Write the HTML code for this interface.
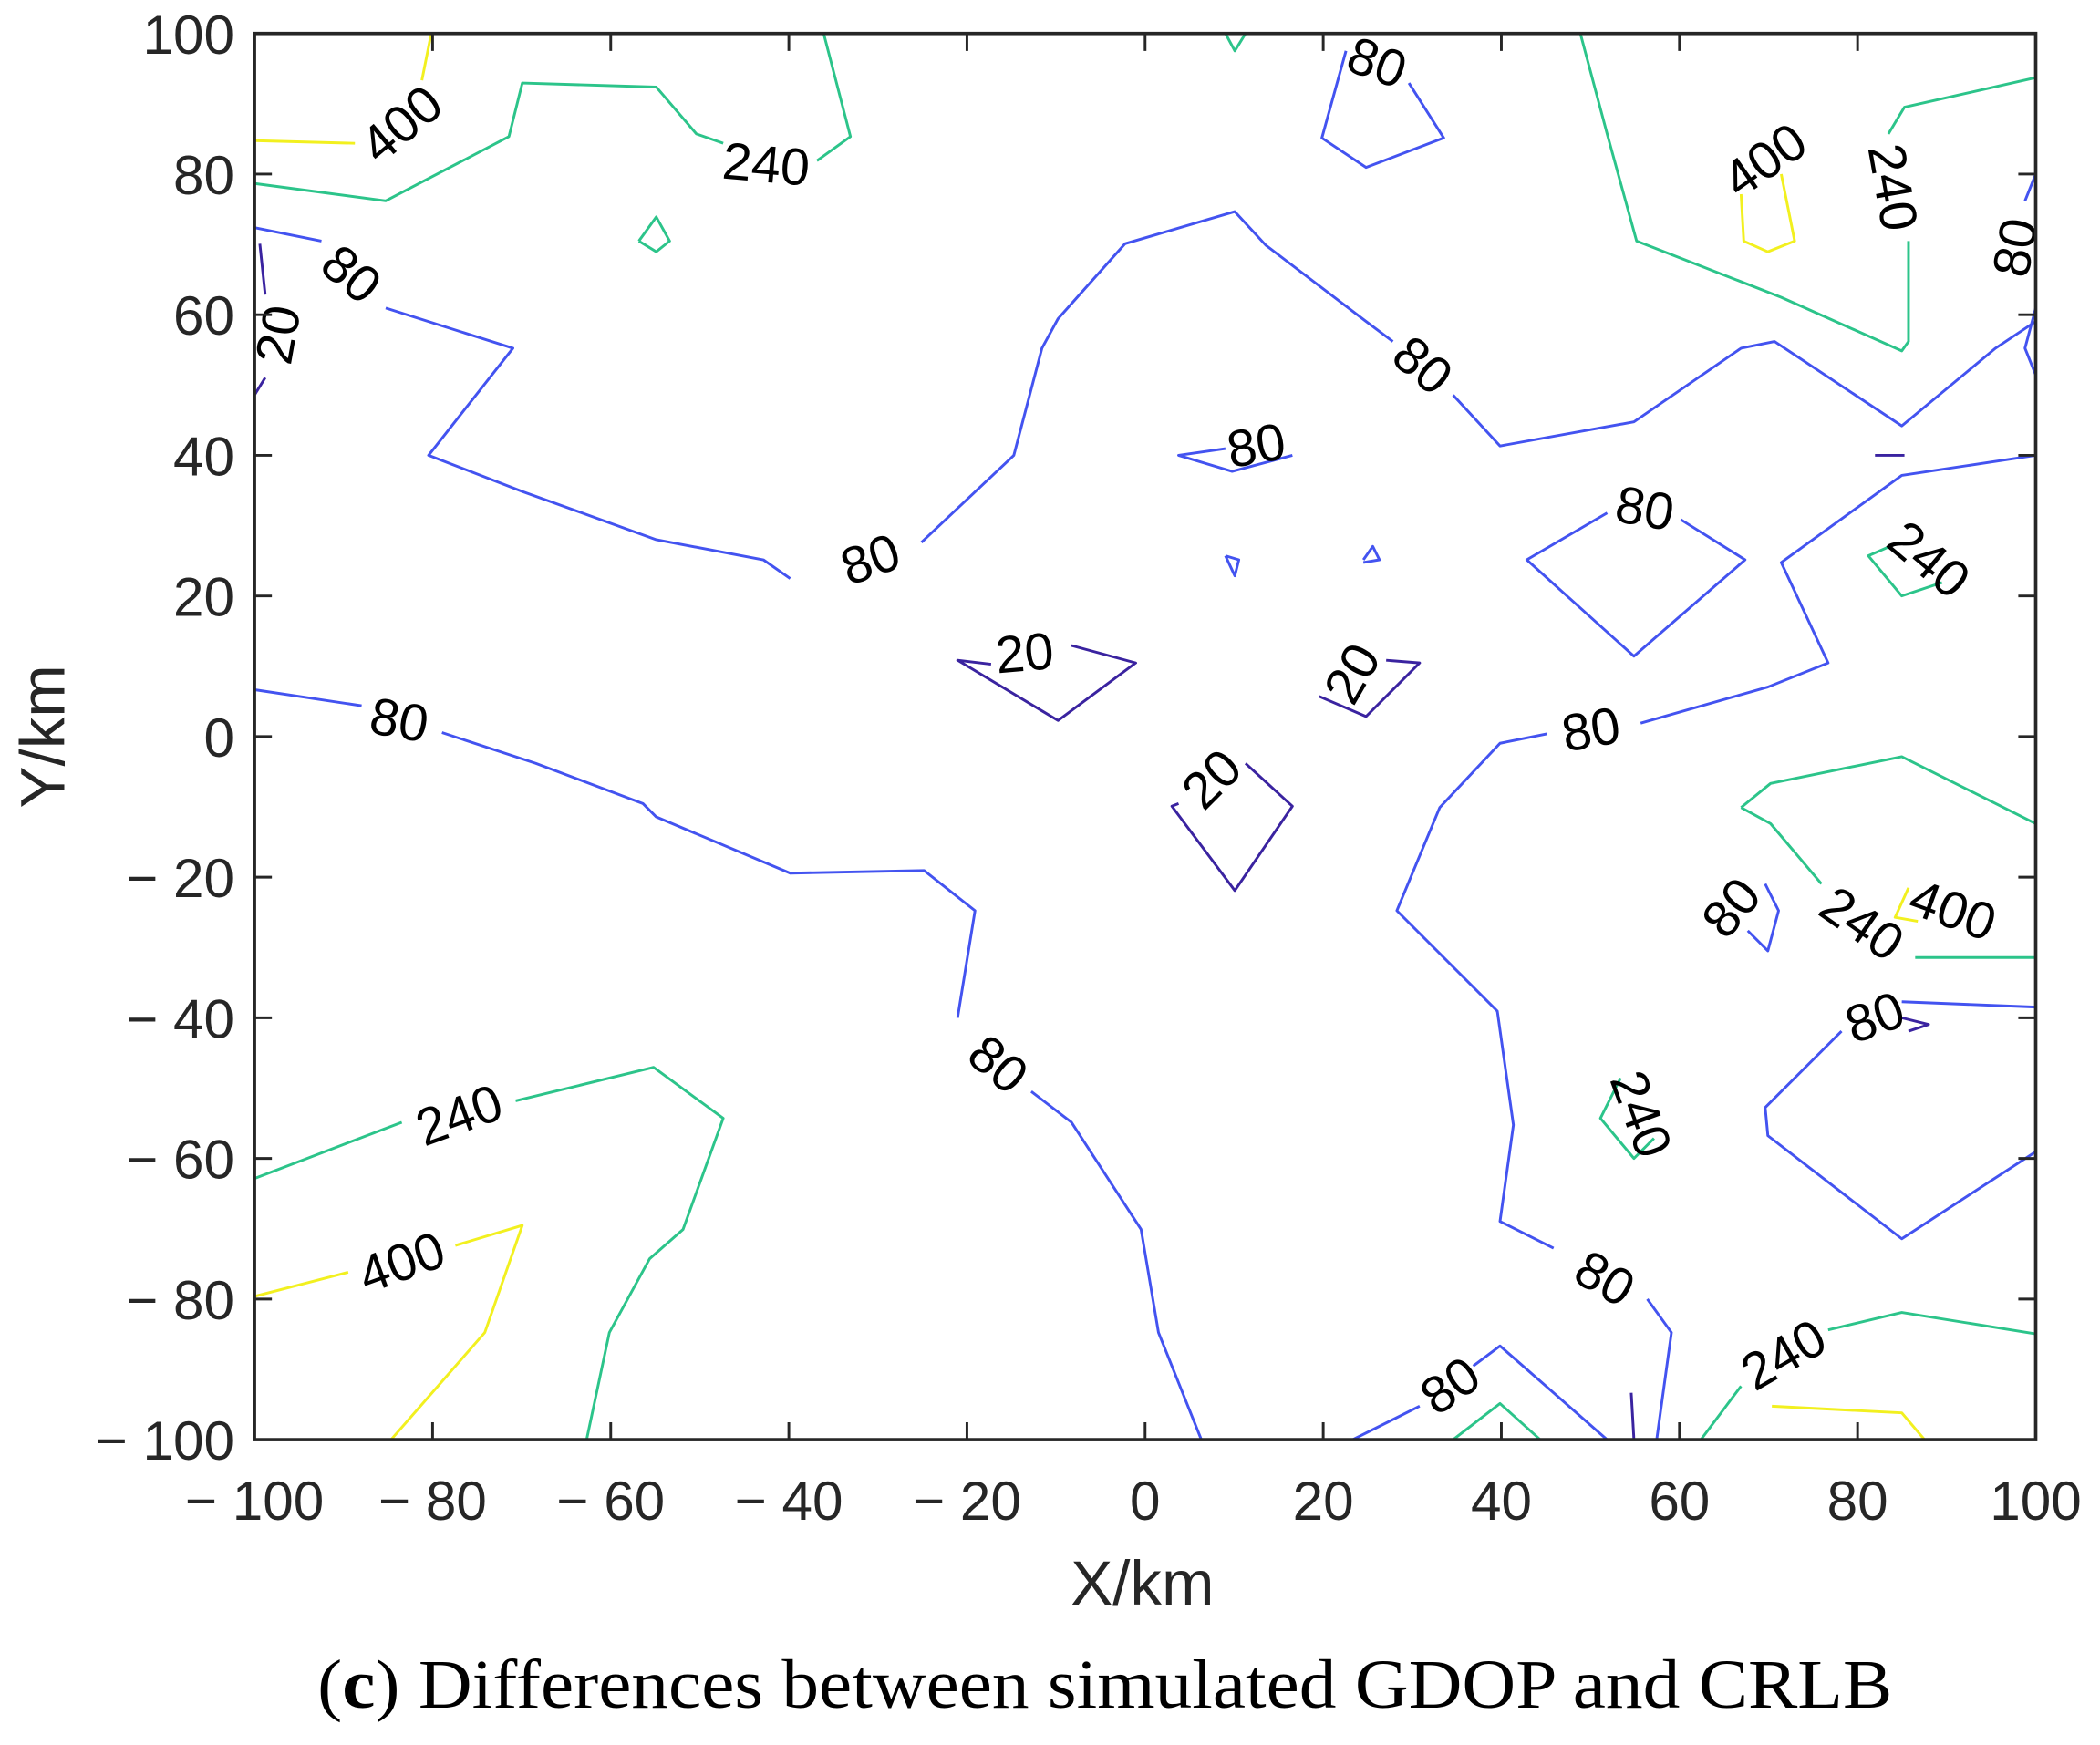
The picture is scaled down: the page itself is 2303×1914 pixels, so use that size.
<!DOCTYPE html>
<html><head><style>html,body{margin:0;padding:0;background:#fff}svg{display:block}</style></head>
<body>
<svg width="2303" height="1914" viewBox="0 0 1568 1303" preserveAspectRatio="none" xmlns="http://www.w3.org/2000/svg">
<rect width="1568" height="1303" fill="#fff"/>
<g fill="none" stroke-width="2" stroke-linejoin="round">
<g stroke="#4353f0">
<polyline points="190,170 240,180"/>
<polyline points="288,230 383,260 320,340 390,367 490,403 570,418 590,432"/>
<polyline points="688,405 757,340 778,260 790,238 840,182 922,158 945,183 1020,240 1040,255"/>
<polyline points="1085,295 1120,333 1220,315 1300,260 1325,255 1420,318 1490,260 1520,240"/>
<polyline points="190,515 270,527"/>
<polyline points="330,547 400,570 480,600 490,610 590,652 690,650 728,680 715,760"/>
<polyline points="770,815 800,838 852,918 865,995 897,1075"/>
<polyline points="1155,548 1120,555 1075,603 1043,680 1118,755 1130,840 1120,912 1160,932"/>
<polyline points="1230,970 1248,995 1237,1075"/>
<polyline points="1225,540 1320,513 1365,495 1330,420 1420,355 1520,340"/>
<polyline points="1005,38 987,103 1020,125 1078,103 1052,62"/>
<polyline points="915,335 880,340 920,352 965,340"/>
<polyline points="1200,383 1140,418 1220,490 1303,418 1255,388"/>
<polyline points="1375,770 1318,827 1320,848 1420,925 1520,860"/>
<polyline points="1420,748 1520,752"/>
<polyline points="1010,1075 1060,1050"/>
<polyline points="1100,1020 1120,1005 1200,1075"/>
<polyline points="1305,695 1320,710 1328,680 1318,660"/>
<polyline points="1520,130 1512,150"/>
<polyline points="1520,230 1512,260 1520,280"/>
<polyline points="915,415 922,430 925,418 915,415"/>
<polyline points="1018,418 1025,408 1030,418 1018,420"/>
</g>
<g stroke="#3a23a0">
<polyline points="740,496 715,493 790,538 848,495 800,482"/>
<polyline points="985,520 1020,535 1060,495 1035,493"/>
<polyline points="880,600 875,602 922,665 965,602 930,570"/>
<polyline points="194,182 198,220"/>
<polyline points="198,282 190,295"/>
<polyline points="1218,1040 1220,1075"/>
<polyline points="1400,340 1422,340"/>
<polyline points="1420,760 1440,765 1425,770"/>
</g>
<g stroke="#2cc48a">
<polyline points="190,137 288,150 380,102 390,62 490,65 520,100 540,107"/>
<polyline points="610,120 635,102 615,25"/>
<polyline points="1180,25 1200,100 1222,180 1330,222 1420,262 1425,255 1425,180"/>
<polyline points="1410,100 1422,80 1520,58"/>
<polyline points="1300,603 1322,585 1420,565 1490,600 1520,615"/>
<polyline points="1300,603 1322,615 1360,660"/>
<polyline points="1430,715 1520,715"/>
<polyline points="1418,405 1395,415 1420,445 1450,435"/>
<polyline points="190,880 300,838"/>
<polyline points="385,822 488,797 540,835 510,918 485,940 455,995 438,1075"/>
<polyline points="1270,1075 1300,1035"/>
<polyline points="1365,993 1420,980 1520,996"/>
<polyline points="1085,1075 1120,1048 1150,1075"/>
<polyline points="1210,805 1195,835 1220,865 1235,850"/>
<polyline points="477,180 490,162 500,180 490,188 477,180"/>
<polyline points="915,25 922,38 930,25"/>
</g>
<g stroke="#f2f01f">
<polyline points="190,105 265,107"/>
<polyline points="315,60 322,25"/>
<polyline points="1300,145 1302,180 1320,188 1340,180 1330,130"/>
<polyline points="190,968 260,950"/>
<polyline points="340,930 390,915 362,995 292,1075"/>
<polyline points="1323,1050 1420,1055 1437,1075"/>
<polyline points="1425,663 1415,685 1432,688"/>
</g>
</g>
<g font-family="Liberation Sans, sans-serif" font-size="39" fill="#000" text-anchor="middle" dominant-baseline="central">
<text transform="translate(262,205) rotate(40)">80</text>
<text transform="translate(650,418) rotate(-20)">80</text>
<text transform="translate(1062,273) rotate(40)">80</text>
<text transform="translate(298,538) rotate(10)">80</text>
<text transform="translate(745,795) rotate(40)">80</text>
<text transform="translate(1188,545) rotate(-10)">80</text>
<text transform="translate(1198,955) rotate(30)">80</text>
<text transform="translate(1028,47) rotate(20)">80</text>
<text transform="translate(938,333) rotate(-10)">80</text>
<text transform="translate(1228,380) rotate(10)">80</text>
<text transform="translate(1400,760) rotate(-20)">80</text>
<text transform="translate(1083,1035) rotate(-35)">80</text>
<text transform="translate(1293,678) rotate(-50)">80</text>
<text transform="translate(1505,185) rotate(-80)">80</text>
<text transform="translate(765,488) rotate(-5)">20</text>
<text transform="translate(1010,503) rotate(-60)">20</text>
<text transform="translate(905,582) rotate(-45)">20</text>
<text transform="translate(208,250) rotate(-80)">20</text>
<text transform="translate(572,123) rotate(5)">240</text>
<text transform="translate(1413,140) rotate(80)">240</text>
<text transform="translate(1390,690) rotate(35)">240</text>
<text transform="translate(1440,418) rotate(40)">240</text>
<text transform="translate(343,833) rotate(-20)">240</text>
<text transform="translate(1332,1012) rotate(-30)">240</text>
<text transform="translate(1225,832) rotate(70)">240</text>
<text transform="translate(300,93) rotate(-40)">400</text>
<text transform="translate(1318,120) rotate(-35)">400</text>
<text transform="translate(300,943) rotate(-20)">400</text>
<text transform="translate(1458,680) rotate(20)">400</text>
</g>
<rect x="190" y="25" width="1330" height="1050" fill="none" stroke="#262626" stroke-width="2.5"/>
<g stroke="#262626" stroke-width="2">
<path d="M323,1075v-13M456,1075v-13M589,1075v-13M722,1075v-13M855,1075v-13M988,1075v-13M1121,1075v-13M1254,1075v-13M1387,1075v-13M323,25v13M456,25v13M589,25v13M722,25v13M855,25v13M988,25v13M1121,25v13M1254,25v13M1387,25v13"/>
<path d="M190,130h13M190,235h13M190,340h13M190,445h13M190,550h13M190,655h13M190,760h13M190,865h13M190,970h13M1520,130h-13M1520,235h-13M1520,340h-13M1520,445h-13M1520,550h-13M1520,655h-13M1520,760h-13M1520,865h-13M1520,970h-13"/>
</g>
<g font-family="Liberation Sans, sans-serif" font-size="41" fill="#262626">
<g text-anchor="middle">
<text x="190" y="1135">− 100</text><text x="323" y="1135">− 80</text><text x="456" y="1135">− 60</text><text x="589" y="1135">− 40</text><text x="722" y="1135">− 20</text><text x="855" y="1135">0</text><text x="988" y="1135">20</text><text x="1121" y="1135">40</text><text x="1254" y="1135">60</text><text x="1387" y="1135">80</text><text x="1520" y="1135">100</text>
</g>
<g text-anchor="end">
<text x="175" y="40">100</text><text x="175" y="145">80</text><text x="175" y="250">60</text><text x="175" y="355">40</text><text x="175" y="460">20</text><text x="175" y="565">0</text><text x="175" y="670">− 20</text><text x="175" y="775">− 40</text><text x="175" y="880">− 60</text><text x="175" y="985">− 80</text><text x="175" y="1090">− 100</text>
</g>
<text x="853" y="1198" text-anchor="middle" font-size="47">X/km</text>
<text transform="translate(48,550) rotate(-90)" text-anchor="middle" font-size="47">Y/km</text>
</g>
<text x="237" y="1275" textLength="1176" lengthAdjust="spacingAndGlyphs" font-family="Liberation Serif, serif" font-size="52" fill="#000">(<tspan font-weight="bold">c</tspan>) Differences between simulated GDOP and CRLB</text>
</svg>
</body></html>
